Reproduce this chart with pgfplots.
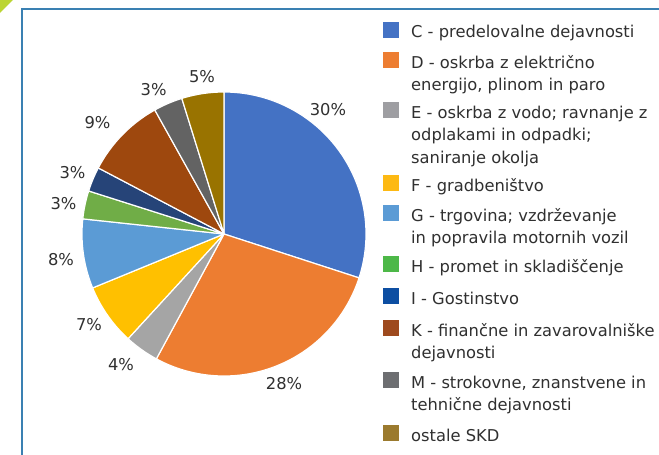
\documentclass[border=0pt]{standalone}
\usepackage{pgfplots}
\pgfplotsset{compat=1.18}
\usepackage{fontspec}
\setmainfont{DejaVu Sans}
\definecolor{txt}{HTML}{303030}
\definecolor{frame}{HTML}{3A80B2}
\definecolor{tri}{HTML}{BCD533}
% pie colours
\definecolor{pC}{HTML}{4472C4}
\definecolor{pD}{HTML}{ED7D31}
\definecolor{pE}{HTML}{A5A5A5}
\definecolor{pF}{HTML}{FFC000}
\definecolor{pG}{HTML}{5B9BD5}
\definecolor{pH}{HTML}{70AD47}
\definecolor{pI}{HTML}{264478}
\definecolor{pK}{HTML}{9E480E}
\definecolor{pM}{HTML}{636363}
\definecolor{pO}{HTML}{997300}
% legend colours
\definecolor{lC}{HTML}{4472C4}
\definecolor{lD}{HTML}{ED7D31}
\definecolor{lE}{HTML}{9E9EA2}
\definecolor{lF}{HTML}{FDB913}
\definecolor{lG}{HTML}{5B9BD5}
\definecolor{lH}{HTML}{4DB848}
\definecolor{lI}{HTML}{0D4EA2}
\definecolor{lK}{HTML}{9E4A1E}
\definecolor{lM}{HTML}{6D6E71}
\definecolor{lO}{HTML}{9B7A2E}
\newcommand\labfont{\fontsize{16.3bp}{20bp}\selectfont}
\begin{document}
\begin{tikzpicture}
\path[use as bounding box] (0,0) rectangle (659bp,455bp);
\fill[white] (0,0) rectangle (659bp,455bp);
% frame
\draw[frame, line width=2bp] (22bp,0) -- (22bp,446bp) -- (659bp,446bp);
\fill[tri] (0,455bp) -- (13bp,455bp) -- (0,442bp) -- cycle;
\begin{axis}[at={(224bp,221bp)}, anchor=center,
  width=284bp, height=284bp, scale only axis,
  xmin=-1, xmax=1, ymin=-1, ymax=1,
  hide axis, clip=false]
\xdef\cumul{90}
\foreach \v/\c/\l/\lx/\ly in {
  30.0/pC/30/0.732/0.873,
  27.9/pD/28/0.423/-1.053,
  3.9/pE/4/-0.725/-0.923,
  7.0/pF/7/-0.951/-0.641,
  7.9/pG/8/-1.148/-0.183,
  3.2/pH/3/-1.130/0.211,
  2.8/pI/3/-1.067/0.430,
  9.2/pK/9/-0.891/0.785,
  3.3/pM/3/-0.496/1.018,
  4.8/pO/5/-0.155/1.106} {
  \pgfmathsetmacro\a{\cumul}
  \pgfmathsetmacro\b{\cumul-3.6*\v}
  \edef\temp{\noexpand\addplot[fill=\c, draw=white, line width=1.2bp, line join=round, no marks, domain=\b:\a, samples=90] ({cos(x)},{sin(x)}) -- (axis cs:0,0) -- cycle;
    \noexpand\node[text=txt, font=\noexpand\labfont, inner sep=0pt] at (axis cs:\lx,\ly) {\l\noexpand\%};}
  \temp
  \xdef\cumul{\b}
}
\end{axis}
% legend
\begin{scope}[every node/.style={anchor=base west, inner sep=0pt, text=txt, font=\labfont}]
\newcommand\entry[3]{\fill[#1] (383bp,{(455-#2)*1bp}) rectangle (398.5bp,{(455-#2+15.5)*1bp});}
\newcommand\lline[2]{\node at (411bp,{(455-#1)*1bp}) {#2};}
\entry{lC}{38}{} \lline{38}{C - predelovalne dejavnosti}
\entry{lD}{68}{} \lline{68}{D - oskrba z električno} \lline{90.5}{energijo, plinom in paro}
\entry{lE}{118}{} \lline{118}{E - oskrba z vodo; ravnanje z} \lline{140.5}{odplakami in odpadki;} \lline{163}{saniranje okolja}
\entry{lF}{191}{} \lline{191}{F - gradbeništvo}
\entry{lG}{221}{} \lline{221}{G - trgovina; vzdrževanje} \lline{243.5}{in popravila motornih vozil}
\entry{lH}{272}{} \lline{272}{H - promet in skladiščenje}
\entry{lI}{304}{} \lline{304}{I - Gostinstvo}
\entry{lK}{336}{} \lline{336}{K - finančne in zavarovalniške} \lline{358.5}{dejavnosti}
\entry{lM}{388}{} \lline{388}{M - strokovne, znanstvene in} \lline{410.5}{tehnične dejavnosti}
\entry{lO}{441}{} \lline{441}{ostale SKD}
\end{scope}
\end{tikzpicture}
\end{document}
